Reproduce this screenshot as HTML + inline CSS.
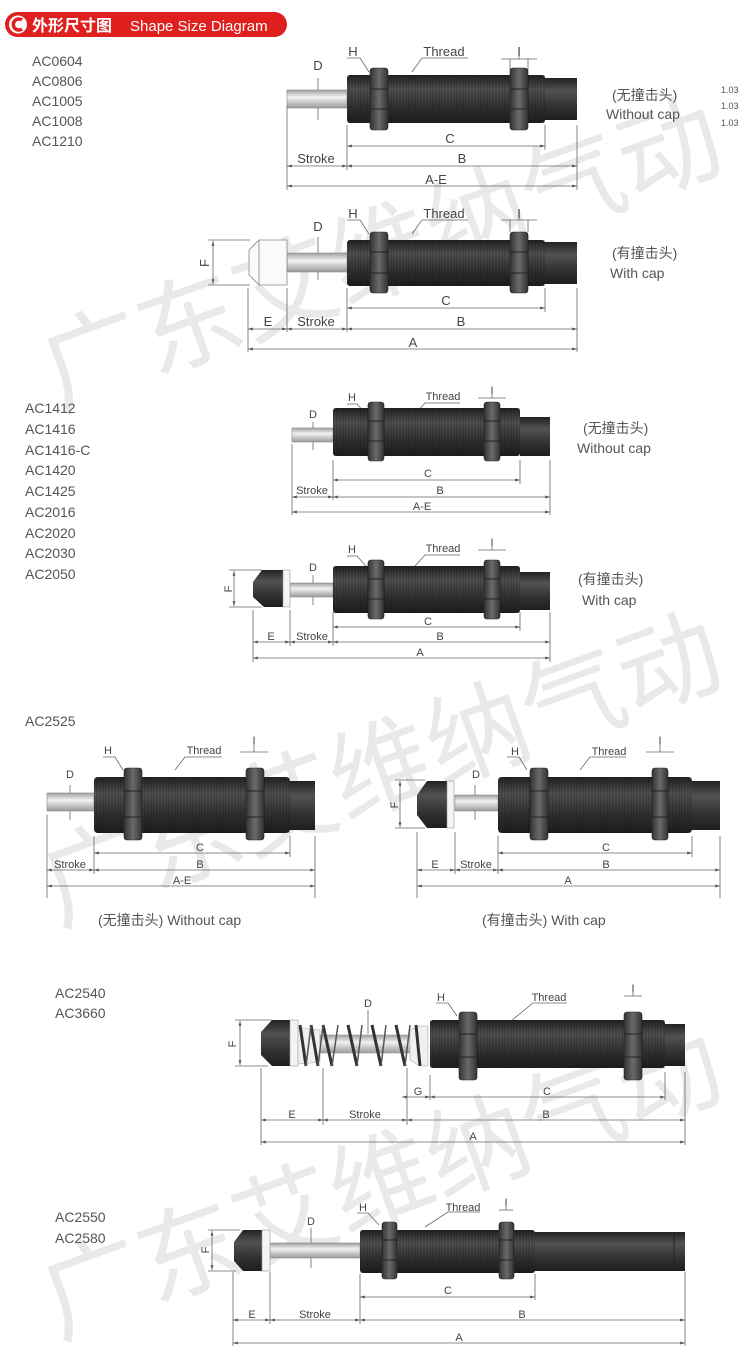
<!DOCTYPE html>
<html><head><meta charset="utf-8"><style>
html,body{margin:0;padding:0;background:#fff;}
svg{display:block;}
text{font-family:"Liberation Sans","Noto Sans CJK SC",sans-serif;}
</style></head><body>
<svg width="750" height="1351" viewBox="0 0 750 1351" xmlns="http://www.w3.org/2000/svg">
<defs>
<linearGradient id="bd" x1="0" y1="0" x2="0" y2="1">
<stop offset="0" stop-color="#222"/><stop offset="0.3" stop-color="#525252"/><stop offset="0.65" stop-color="#333"/><stop offset="1" stop-color="#1e1e1e"/></linearGradient>
<linearGradient id="nt" x1="0" y1="0" x2="1" y2="0">
<stop offset="0" stop-color="#333"/><stop offset="0.5" stop-color="#6a6a6a"/><stop offset="1" stop-color="#333"/></linearGradient>
<linearGradient id="rd" x1="0" y1="0" x2="0" y2="1">
<stop offset="0" stop-color="#a0a0a0"/><stop offset="0.4" stop-color="#f2f2f2"/><stop offset="1" stop-color="#9a9a9a"/></linearGradient>
<pattern id="th" width="3" height="10" patternUnits="userSpaceOnUse"><rect width="3" height="10" fill="none"/><line x1="1" y1="0" x2="1" y2="10" stroke="#000" stroke-opacity="0.35" stroke-width="0.8"/></pattern>
<marker id="a" viewBox="0 0 10 10" refX="10" refY="5" markerWidth="6" markerHeight="6" orient="auto-start-reverse"><path d="M0,2L10,5L0,8z" fill="#555"/></marker>
</defs>

<!-- watermarks -->
<g fill="#e9e9e9" font-size="102" font-family="Liberation Sans,Noto Sans CJK SC,sans-serif">
<text transform="translate(58,410) rotate(-20)">广东艾维纳气动</text>
<text transform="translate(58,925) rotate(-20)">广东艾维纳气动</text>
<text transform="translate(58,1338) rotate(-20)">广东艾维纳气动</text>
</g>

<!-- header -->
<rect x="5" y="12" width="282" height="25" rx="12.5" fill="#e0201f"/>
<circle cx="18" cy="24.5" r="9" fill="#fff"/>
<path d="M22,20 A5.5,5.5 0 1 0 22,29" stroke="#e0201f" stroke-width="3.5" fill="none"/>
<text x="32" y="31" fill="#fff" font-size="16" font-weight="bold">外形尺寸图</text>
<text x="130" y="31" fill="#fff" font-size="15">Shape Size Diagram</text>

<g fill="#555" font-size="14">
<text x="32" y="66">AC0604</text><text x="32" y="86">AC0806</text><text x="32" y="106">AC1005</text><text x="32" y="126">AC1008</text><text x="32" y="146">AC1210</text>
<text x="25" y="413">AC1412</text><text x="25" y="434">AC1416</text><text x="25" y="455">AC1416-C</text><text x="25" y="475">AC1420</text><text x="25" y="496">AC1425</text><text x="25" y="517">AC2016</text><text x="25" y="538">AC2020</text><text x="25" y="558">AC2030</text><text x="25" y="579">AC2050</text>
<text x="25" y="726">AC2525</text>
<text x="55" y="998">AC2540</text><text x="55" y="1018">AC3660</text>
<text x="55" y="1222">AC2550</text><text x="55" y="1243">AC2580</text>
</g>

<g fill="#555" font-size="14">
<text x="612" y="100">(无撞击头)</text><text x="606" y="119">Without cap</text>
<text x="612" y="258">(有撞击头)</text><text x="610" y="278">With cap</text>
<text x="583" y="433">(无撞击头)</text><text x="577" y="453">Without cap</text>
<text x="578" y="584">(有撞击头)</text><text x="582" y="605">With cap</text>
<text x="98" y="925">(无撞击头) Without cap</text>
<text x="482" y="925">(有撞击头) With cap</text>
</g>
<g fill="#555" font-size="9"><text x="721" y="93">1.03</text><text x="721" y="109">1.03</text><text x="721" y="126">1.03</text></g>

<g stroke="#666" stroke-width="0.8" fill="none">
<!-- D1 -->
<line x1="287" y1="105" x2="287" y2="190"/><line x1="347" y1="125" x2="347" y2="170"/><line x1="545" y1="125" x2="545" y2="150"/><line x1="577" y1="125" x2="577" y2="190"/>
<line x1="347" y1="146" x2="545" y2="146" marker-start="url(#a)" marker-end="url(#a)"/>
<line x1="347" y1="166" x2="577" y2="166" marker-start="url(#a)" marker-end="url(#a)"/>
<line x1="287" y1="166" x2="347" y2="166" marker-start="url(#a)" marker-end="url(#a)"/>
<line x1="287" y1="186" x2="577" y2="186" marker-start="url(#a)" marker-end="url(#a)"/>
<line x1="318" y1="78" x2="318" y2="120"/>
<path d="M347,58 L360,58 L369,72"/><path d="M468,58 L422,58 L412,72"/>
<line x1="501" y1="59" x2="537" y2="59"/><line x1="519" y1="50" x2="519" y2="59"/>
<line x1="510" y1="59" x2="510" y2="70"/><line x1="528" y1="59" x2="528" y2="70"/>
<!-- D2 -->
<line x1="248" y1="288" x2="248" y2="352"/><line x1="287" y1="288" x2="287" y2="332"/><line x1="347" y1="288" x2="347" y2="332"/><line x1="545" y1="288" x2="545" y2="312"/><line x1="577" y1="288" x2="577" y2="352"/>
<line x1="347" y1="308" x2="545" y2="308" marker-start="url(#a)" marker-end="url(#a)"/>
<line x1="347" y1="329" x2="577" y2="329" marker-start="url(#a)" marker-end="url(#a)"/>
<line x1="287" y1="329" x2="347" y2="329" marker-start="url(#a)" marker-end="url(#a)"/>
<line x1="248" y1="329" x2="287" y2="329" marker-start="url(#a)" marker-end="url(#a)"/>
<line x1="248" y1="349" x2="577" y2="349" marker-start="url(#a)" marker-end="url(#a)"/>
<line x1="213" y1="241" x2="213" y2="284" marker-start="url(#a)" marker-end="url(#a)"/>
<line x1="208" y1="240" x2="250" y2="240"/><line x1="208" y1="285" x2="250" y2="285"/>
<line x1="318" y1="237" x2="318" y2="280"/>
<path d="M347,220 L360,220 L369,234"/><path d="M468,220 L422,220 L412,234"/>
<line x1="501" y1="220" x2="537" y2="220"/><line x1="519" y1="211" x2="519" y2="220"/>
<line x1="510" y1="220" x2="510" y2="232"/><line x1="528" y1="220" x2="528" y2="232"/>
<!-- D3 -->
<line x1="292" y1="444" x2="292" y2="515"/><line x1="333" y1="460" x2="333" y2="500"/><line x1="520" y1="460" x2="520" y2="484"/><line x1="550" y1="460" x2="550" y2="515"/>
<line x1="333" y1="480" x2="520" y2="480" marker-start="url(#a)" marker-end="url(#a)"/>
<line x1="333" y1="497" x2="550" y2="497" marker-start="url(#a)" marker-end="url(#a)"/>
<line x1="292" y1="497" x2="333" y2="497" marker-start="url(#a)" marker-end="url(#a)"/>
<line x1="292" y1="512" x2="550" y2="512" marker-start="url(#a)" marker-end="url(#a)"/>
<line x1="313" y1="422" x2="313" y2="450"/>
<path d="M347,404 L357,404 L367,415"/><path d="M460,403 L425,403 L415,414"/>
<line x1="478" y1="398" x2="506" y2="398"/><line x1="492" y1="389" x2="492" y2="398"/>
<!-- D4 -->
<line x1="253" y1="610" x2="253" y2="662"/><line x1="290" y1="610" x2="290" y2="646"/><line x1="333" y1="612" x2="333" y2="646"/><line x1="520" y1="612" x2="520" y2="631"/><line x1="550" y1="612" x2="550" y2="662"/>
<line x1="333" y1="627" x2="520" y2="627" marker-start="url(#a)" marker-end="url(#a)"/>
<line x1="333" y1="642" x2="550" y2="642" marker-start="url(#a)" marker-end="url(#a)"/>
<line x1="290" y1="642" x2="333" y2="642" marker-start="url(#a)" marker-end="url(#a)"/>
<line x1="253" y1="642" x2="290" y2="642" marker-start="url(#a)" marker-end="url(#a)"/>
<line x1="253" y1="658" x2="550" y2="658" marker-start="url(#a)" marker-end="url(#a)"/>
<line x1="234" y1="571" x2="234" y2="606" marker-start="url(#a)" marker-end="url(#a)"/>
<line x1="229" y1="570" x2="262" y2="570"/><line x1="229" y1="607" x2="262" y2="607"/>
<line x1="313" y1="575" x2="313" y2="605"/>
<path d="M347,556 L357,556 L367,567"/><path d="M460,555 L425,555 L415,566"/>
<line x1="478" y1="550" x2="506" y2="550"/><line x1="492" y1="541" x2="492" y2="550"/>
<!-- D5a -->
<line x1="47" y1="815" x2="47" y2="898"/><line x1="94" y1="836" x2="94" y2="874"/><line x1="290" y1="836" x2="290" y2="857"/><line x1="315" y1="836" x2="315" y2="898"/>
<line x1="94" y1="853" x2="290" y2="853" marker-start="url(#a)" marker-end="url(#a)"/>
<line x1="94" y1="870" x2="315" y2="870" marker-start="url(#a)" marker-end="url(#a)"/>
<line x1="47" y1="870" x2="94" y2="870" marker-start="url(#a)" marker-end="url(#a)"/>
<line x1="47" y1="886" x2="315" y2="886" marker-start="url(#a)" marker-end="url(#a)"/>
<line x1="70" y1="785" x2="70" y2="820"/>
<path d="M103,757 L115,757 L123,770"/><path d="M222,757 L185,757 L175,770"/>
<line x1="240" y1="752" x2="268" y2="752"/><line x1="254" y1="742" x2="254" y2="752"/>
<!-- D5b -->
<line x1="417" y1="832" x2="417" y2="898"/><line x1="455" y1="832" x2="455" y2="874"/><line x1="498" y1="836" x2="498" y2="874"/><line x1="692" y1="836" x2="692" y2="857"/><line x1="720" y1="836" x2="720" y2="898"/>
<line x1="498" y1="853" x2="692" y2="853" marker-start="url(#a)" marker-end="url(#a)"/>
<line x1="498" y1="870" x2="720" y2="870" marker-start="url(#a)" marker-end="url(#a)"/>
<line x1="455" y1="870" x2="498" y2="870" marker-start="url(#a)" marker-end="url(#a)"/>
<line x1="417" y1="870" x2="455" y2="870" marker-start="url(#a)" marker-end="url(#a)"/>
<line x1="417" y1="886" x2="720" y2="886" marker-start="url(#a)" marker-end="url(#a)"/>
<line x1="400" y1="781" x2="400" y2="827" marker-start="url(#a)" marker-end="url(#a)"/>
<line x1="395" y1="780" x2="425" y2="780"/><line x1="395" y1="828" x2="425" y2="828"/>
<line x1="475" y1="785" x2="475" y2="820"/>
<path d="M507,757 L519,757 L527,770"/><path d="M626,757 L590,757 L580,770"/>
<line x1="646" y1="752" x2="674" y2="752"/><line x1="660" y1="742" x2="660" y2="752"/>
<!-- D6 -->
<line x1="261" y1="1068" x2="261" y2="1145"/><line x1="323" y1="1068" x2="323" y2="1125"/><line x1="407" y1="1068" x2="407" y2="1125"/><line x1="430" y1="1075" x2="430" y2="1100"/><line x1="665" y1="1072" x2="665" y2="1100"/><line x1="685" y1="1072" x2="685" y2="1145"/>
<line x1="402" y1="1097" x2="430" y2="1097" marker-start="url(#a)" marker-end="url(#a)"/>
<line x1="430" y1="1097" x2="665" y2="1097" marker-start="url(#a)" marker-end="url(#a)"/>
<line x1="261" y1="1120" x2="323" y2="1120" marker-start="url(#a)" marker-end="url(#a)"/>
<line x1="323" y1="1120" x2="407" y2="1120" marker-start="url(#a)" marker-end="url(#a)"/>
<line x1="407" y1="1120" x2="685" y2="1120" marker-start="url(#a)" marker-end="url(#a)"/>
<line x1="261" y1="1142" x2="685" y2="1142" marker-start="url(#a)" marker-end="url(#a)"/>
<line x1="240" y1="1021" x2="240" y2="1065" marker-start="url(#a)" marker-end="url(#a)"/>
<line x1="235" y1="1020" x2="272" y2="1020"/><line x1="235" y1="1066" x2="268" y2="1066"/>
<line x1="368" y1="1010" x2="368" y2="1034"/>
<path d="M436,1003 L448,1003 L457,1016"/><path d="M567,1003 L533,1003 L511,1021"/>
<line x1="624" y1="996" x2="642" y2="996"/><line x1="633" y1="986" x2="633" y2="996"/>
<!-- D7 -->
<line x1="233" y1="1272" x2="233" y2="1346"/><line x1="270" y1="1272" x2="270" y2="1324"/><line x1="360" y1="1274" x2="360" y2="1324"/><line x1="535" y1="1274" x2="535" y2="1300"/><line x1="685" y1="1272" x2="685" y2="1346"/>
<line x1="360" y1="1297" x2="535" y2="1297" marker-start="url(#a)" marker-end="url(#a)"/>
<line x1="233" y1="1320" x2="270" y2="1320" marker-start="url(#a)" marker-end="url(#a)"/>
<line x1="270" y1="1320" x2="360" y2="1320" marker-start="url(#a)" marker-end="url(#a)"/>
<line x1="360" y1="1320" x2="685" y2="1320" marker-start="url(#a)" marker-end="url(#a)"/>
<line x1="233" y1="1343" x2="685" y2="1343" marker-start="url(#a)" marker-end="url(#a)"/>
<line x1="212" y1="1231" x2="212" y2="1270" marker-start="url(#a)" marker-end="url(#a)"/>
<line x1="208" y1="1230" x2="240" y2="1230"/><line x1="208" y1="1271" x2="236" y2="1271"/>
<line x1="311" y1="1228" x2="311" y2="1268"/>
<path d="M357,1213 L368,1213 L379,1225"/><path d="M480,1212 L448,1212 L425,1227"/>
<line x1="499" y1="1210" x2="513" y2="1210"/><line x1="506" y1="1200" x2="506" y2="1210"/>
</g>

<!-- SHAPES -->
<!-- D1 -->
<rect x="287" y="90" width="60" height="18" fill="url(#rd)" stroke="#888" stroke-width="0.6"/>
<rect x="347" y="75" width="198" height="48" rx="3" fill="url(#bd)"/><rect x="347" y="75" width="198" height="48" fill="url(#th)"/>
<rect x="545" y="78" width="32" height="42" fill="url(#bd)"/>
<rect x="370" y="68" width="18" height="62" rx="3" fill="url(#nt)" stroke="#222" stroke-width="0.6"/><line x1="370" y1="89" x2="388" y2="89" stroke="#222"/><line x1="370" y1="109" x2="388" y2="109" stroke="#222"/>
<rect x="510" y="68" width="18" height="62" rx="3" fill="url(#nt)" stroke="#222" stroke-width="0.6"/><line x1="510" y1="89" x2="528" y2="89" stroke="#222"/><line x1="510" y1="109" x2="528" y2="109" stroke="#222"/>
<!-- D2 -->
<rect x="287" y="253" width="60" height="19" fill="url(#rd)" stroke="#888" stroke-width="0.6"/>
<path d="M259,240 L287,240 L287,285 L259,285 L249,275 L249,250 Z" fill="#fafafa" stroke="#888" stroke-width="0.8"/><line x1="259" y1="240" x2="259" y2="285" stroke="#888" stroke-width="0.8"/>
<rect x="347" y="240" width="198" height="46" rx="3" fill="url(#bd)"/><rect x="347" y="240" width="198" height="46" fill="url(#th)"/>
<rect x="545" y="242" width="32" height="42" fill="url(#bd)"/>
<rect x="370" y="232" width="18" height="61" rx="3" fill="url(#nt)" stroke="#222" stroke-width="0.6"/><line x1="370" y1="252" x2="388" y2="252" stroke="#222"/><line x1="370" y1="273" x2="388" y2="273" stroke="#222"/>
<rect x="510" y="232" width="18" height="61" rx="3" fill="url(#nt)" stroke="#222" stroke-width="0.6"/><line x1="510" y1="252" x2="528" y2="252" stroke="#222"/><line x1="510" y1="273" x2="528" y2="273" stroke="#222"/>
<!-- D3 -->
<rect x="292" y="428" width="41" height="14" fill="url(#rd)" stroke="#888" stroke-width="0.6"/>
<rect x="333" y="408" width="187" height="48" rx="3" fill="url(#bd)"/><rect x="333" y="408" width="187" height="48" fill="url(#th)"/>
<rect x="520" y="417" width="30" height="39" fill="url(#bd)"/>
<rect x="368" y="402" width="16" height="59" rx="3" fill="url(#nt)" stroke="#222" stroke-width="0.6"/><line x1="368" y1="421" x2="384" y2="421" stroke="#222"/><line x1="368" y1="441" x2="384" y2="441" stroke="#222"/>
<rect x="484" y="402" width="16" height="59" rx="3" fill="url(#nt)" stroke="#222" stroke-width="0.6"/><line x1="484" y1="421" x2="500" y2="421" stroke="#222"/><line x1="484" y1="441" x2="500" y2="441" stroke="#222"/>
<!-- D4 -->
<rect x="290" y="583" width="43" height="14" fill="url(#rd)" stroke="#888" stroke-width="0.6"/>
<path d="M262,570 L283,570 L283,607 L264,607 L253,597 L253,582 Z" fill="url(#bd)"/><rect x="283" y="570" width="7" height="37" fill="#f4f4f4" stroke="#999" stroke-width="0.6"/>
<rect x="333" y="566" width="187" height="47" rx="3" fill="url(#bd)"/><rect x="333" y="566" width="187" height="47" fill="url(#th)"/>
<rect x="520" y="572" width="30" height="38" fill="url(#bd)"/>
<rect x="368" y="560" width="16" height="59" rx="3" fill="url(#nt)" stroke="#222" stroke-width="0.6"/><line x1="368" y1="579" x2="384" y2="579" stroke="#222"/><line x1="368" y1="599" x2="384" y2="599" stroke="#222"/>
<rect x="484" y="560" width="16" height="59" rx="3" fill="url(#nt)" stroke="#222" stroke-width="0.6"/><line x1="484" y1="579" x2="500" y2="579" stroke="#222"/><line x1="484" y1="599" x2="500" y2="599" stroke="#222"/>
<!-- D5a -->
<rect x="47" y="793" width="47" height="18" fill="url(#rd)" stroke="#888" stroke-width="0.6"/>
<rect x="94" y="777" width="196" height="56" rx="4" fill="url(#bd)"/><rect x="94" y="777" width="196" height="56" fill="url(#th)"/>
<rect x="290" y="781" width="25" height="49" fill="url(#bd)"/>
<rect x="124" y="768" width="18" height="72" rx="3" fill="url(#nt)" stroke="#222" stroke-width="0.6"/><line x1="124" y1="791" x2="142" y2="791" stroke="#222"/><line x1="124" y1="817" x2="142" y2="817" stroke="#222"/>
<rect x="246" y="768" width="18" height="72" rx="3" fill="url(#nt)" stroke="#222" stroke-width="0.6"/><line x1="246" y1="791" x2="264" y2="791" stroke="#222"/><line x1="246" y1="817" x2="264" y2="817" stroke="#222"/>
<!-- D5b -->
<rect x="455" y="795" width="43" height="16" fill="url(#rd)" stroke="#888" stroke-width="0.6"/>
<path d="M427,781 L447,781 L447,828 L427,828 L417,815 L417,795 Z" fill="url(#bd)"/><rect x="447" y="781" width="7" height="47" fill="#f4f4f4" stroke="#999" stroke-width="0.6"/>
<rect x="498" y="777" width="194" height="56" rx="4" fill="url(#bd)"/><rect x="498" y="777" width="194" height="56" fill="url(#th)"/>
<rect x="692" y="781" width="28" height="49" fill="url(#bd)"/>
<rect x="530" y="768" width="18" height="72" rx="3" fill="url(#nt)" stroke="#222" stroke-width="0.6"/><line x1="530" y1="791" x2="548" y2="791" stroke="#222"/><line x1="530" y1="817" x2="548" y2="817" stroke="#222"/>
<rect x="652" y="768" width="16" height="72" rx="3" fill="url(#nt)" stroke="#222" stroke-width="0.6"/><line x1="652" y1="791" x2="668" y2="791" stroke="#222"/><line x1="652" y1="817" x2="668" y2="817" stroke="#222"/>
<!-- D6 -->
<path d="M272,1020 L290,1020 L290,1066 L272,1066 L261,1055 L261,1032 Z" fill="url(#bd)"/><rect x="290" y="1020" width="8" height="46" fill="#f4f4f4" stroke="#999" stroke-width="0.6"/>
<path d="M298,1028 L320,1030 L320,1062 L298,1064 Z" fill="#f0f0f0" stroke="#aaa" stroke-width="0.6"/>
<rect x="320" y="1035" width="90" height="18" fill="url(#rd)" stroke="#999" stroke-width="0.6"/>
<path d="M410,1030 L420,1026 L428,1026 L428,1066 L420,1066 L410,1060 Z" fill="#f0f0f0" stroke="#aaa" stroke-width="0.6"/>
<g stroke="#333" stroke-width="3" fill="none">
<path d="M300,1025 L306,1066 M311,1025 L318,1066 M323,1025 L332,1066 M348,1025 L357,1066 M372,1025 L381,1066 M396,1025 L405,1066 M416,1025 L420,1066"/>
<path d="M306,1066 L311,1025 M318,1066 L323,1025 M332,1066 L338,1025 M357,1066 L362,1025 M381,1066 L386,1025 M405,1066 L410,1025" stroke="#555" stroke-width="1.5"/>
</g>
<rect x="430" y="1020" width="235" height="48" rx="3" fill="url(#bd)"/><rect x="430" y="1020" width="235" height="48" fill="url(#th)"/>
<rect x="665" y="1024" width="20" height="42" fill="url(#bd)"/>
<rect x="459" y="1012" width="18" height="68" rx="3" fill="url(#nt)" stroke="#222" stroke-width="0.6"/><line x1="459" y1="1034" x2="477" y2="1034" stroke="#222"/><line x1="459" y1="1057" x2="477" y2="1057" stroke="#222"/>
<rect x="624" y="1012" width="18" height="68" rx="3" fill="url(#nt)" stroke="#222" stroke-width="0.6"/><line x1="624" y1="1034" x2="642" y2="1034" stroke="#222"/><line x1="624" y1="1057" x2="642" y2="1057" stroke="#222"/>
<!-- D7 -->
<rect x="270" y="1243" width="90" height="15" fill="url(#rd)" stroke="#888" stroke-width="0.6"/>
<path d="M243,1230 L262,1230 L262,1271 L243,1271 L234,1261 L234,1242 Z" fill="url(#bd)"/><rect x="262" y="1230" width="8" height="41" fill="#f4f4f4" stroke="#999" stroke-width="0.6"/>
<rect x="360" y="1230" width="175" height="43" rx="3" fill="url(#bd)"/><rect x="360" y="1230" width="175" height="43" fill="url(#th)"/>
<rect x="535" y="1232" width="150" height="39" fill="url(#bd)"/><line x1="674" y1="1232" x2="674" y2="1271" stroke="#222"/>
<rect x="382" y="1222" width="15" height="57" rx="3" fill="url(#nt)" stroke="#222" stroke-width="0.6"/><line x1="382" y1="1240" x2="397" y2="1240" stroke="#222"/><line x1="382" y1="1260" x2="397" y2="1260" stroke="#222"/>
<rect x="499" y="1222" width="15" height="57" rx="3" fill="url(#nt)" stroke="#222" stroke-width="0.6"/><line x1="499" y1="1240" x2="514" y2="1240" stroke="#222"/><line x1="499" y1="1260" x2="514" y2="1260" stroke="#222"/>

<!-- DIM LABELS -->
<g fill="#444" font-size="13" text-anchor="middle">
<text x="318" y="70">D</text><text x="353" y="56">H</text><text x="444" y="56">Thread</text><text x="519" y="56">I</text>
<text x="450" y="143">C</text><text x="316" y="163">Stroke</text><text x="462" y="163">B</text><text x="436" y="184">A-E</text>
<text x="318" y="231">D</text><text x="353" y="218">H</text><text x="444" y="218">Thread</text><text x="519" y="218">I</text>
<text x="446" y="305">C</text><text x="268" y="326">E</text><text x="316" y="326">Stroke</text><text x="461" y="326">B</text><text x="413" y="347">A</text>
<text x="209" y="263" transform="rotate(-90 209 263)">F</text>
</g>
<g fill="#444" font-size="11" text-anchor="middle">
<text x="313" y="418">D</text><text x="352" y="401">H</text><text x="443" y="400">Thread</text><text x="492" y="394">I</text>
<text x="428" y="477">C</text><text x="312" y="494">Stroke</text><text x="440" y="494">B</text><text x="422" y="510">A-E</text>
<text x="313" y="571">D</text><text x="352" y="553">H</text><text x="443" y="552">Thread</text><text x="492" y="546">I</text>
<text x="428" y="625">C</text><text x="271" y="640">E</text><text x="312" y="640">Stroke</text><text x="440" y="640">B</text><text x="420" y="656">A</text>
<text x="232" y="589" transform="rotate(-90 232 589)">F</text>
<text x="70" y="778">D</text><text x="108" y="754">H</text><text x="204" y="754">Thread</text><text x="254" y="744">I</text>
<text x="200" y="851">C</text><text x="70" y="868">Stroke</text><text x="200" y="868">B</text><text x="182" y="884">A-E</text>
<text x="476" y="778">D</text><text x="515" y="755">H</text><text x="609" y="755">Thread</text><text x="660" y="744">I</text>
<text x="606" y="851">C</text><text x="435" y="868">E</text><text x="476" y="868">Stroke</text><text x="606" y="868">B</text><text x="568" y="884">A</text>
<text x="398" y="805" transform="rotate(-90 398 805)">F</text>
<text x="368" y="1007">D</text><text x="441" y="1001">H</text><text x="549" y="1001">Thread</text><text x="633" y="992">I</text>
<text x="418" y="1095">G</text><text x="547" y="1095">C</text><text x="292" y="1118">E</text><text x="365" y="1118">Stroke</text><text x="546" y="1118">B</text><text x="473" y="1140">A</text>
<text x="236" y="1044" transform="rotate(-90 236 1044)">F</text>
<text x="311" y="1225">D</text><text x="363" y="1211">H</text><text x="463" y="1211">Thread</text><text x="506" y="1206">I</text>
<text x="448" y="1294">C</text><text x="252" y="1318">E</text><text x="315" y="1318">Stroke</text><text x="522" y="1318">B</text><text x="459" y="1341">A</text>
<text x="209" y="1250" transform="rotate(-90 209 1250)">F</text>
</g>
</svg>
</body></html>
